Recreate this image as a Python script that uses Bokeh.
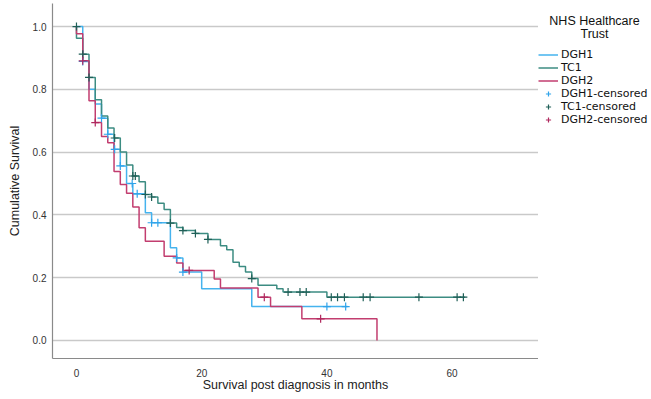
from bokeh.plotting import figure
from bokeh.layouts import row
from bokeh.models import Range1d, FixedTicker, PrintfTickFormatter, Legend, LegendItem, Label
from bokeh.embed import file_html
from bokeh.resources import INLINE

# ---------------- data ----------------
# DGH1
dgh1_t = [1, 2, 3, 4, 5, 6, 7, 8, 9, 11, 12, 15, 16, 17, 20, 28]
dgh1_s = [0.889, 0.800, 0.753, 0.708, 0.657, 0.609, 0.556, 0.500, 0.467, 0.407, 0.375,
          0.295, 0.263, 0.218, 0.165, 0.108]
dgh1_end = 43.3
dgh1_ct = [1, 4, 5, 6.1, 7, 8.9, 9.7, 12, 13, 16, 17, 40, 43]
dgh1_cs = [0.889, 0.708, 0.657, 0.609, 0.556, 0.500, 0.467, 0.375, 0.375, 0.263, 0.218, 0.108, 0.108]

# TC1
tc1_t = [0, 1, 2, 3, 4, 5, 6, 7, 8, 9, 10, 11, 12, 13, 14, 15, 16, 17, 19, 21, 23, 24, 25,
         26, 27, 28, 29, 32, 33, 40]
tc1_s = [0.963, 0.912, 0.838, 0.767, 0.715, 0.677, 0.645, 0.600, 0.559, 0.524, 0.506, 0.465,
         0.457, 0.437, 0.417, 0.374, 0.360, 0.350, 0.341, 0.322, 0.302, 0.289, 0.249, 0.236,
         0.218, 0.197, 0.176, 0.165, 0.154, 0.138]
tc1_end = 62.1
tc1_ct = [0, 1, 2, 6.1, 9, 9.4, 11, 12, 15, 17, 19, 21, 28, 33.8, 35.7, 36.7, 40.7, 41.7,
          42.8, 45.8, 46.9, 54.7, 60.8, 61.8]
tc1_cs = [1.0, 0.912, 0.838, 0.645, 0.524, 0.524, 0.465, 0.457, 0.374, 0.350, 0.341, 0.322,
          0.197, 0.154, 0.154, 0.154, 0.138, 0.138, 0.138, 0.138, 0.138, 0.138, 0.138, 0.138]

# DGH2
dgh2_t = [0, 1, 2, 3, 4, 5, 6, 7, 8, 9, 10, 11, 14, 16, 17, 22, 23, 29, 31, 36, 48]
dgh2_s = [0.977, 0.891, 0.764, 0.694, 0.650, 0.630, 0.538, 0.497, 0.469, 0.425, 0.359, 0.316,
          0.268, 0.247, 0.223, 0.196, 0.167, 0.138, 0.108, 0.069, 0.0]
dgh2_end = 48
dgh2_ct = [1, 3, 18, 30, 39]
dgh2_cs = [0.891, 0.694, 0.223, 0.138, 0.069]

series_names = ["DGH1", "TC1", "DGH2"]
x_ticks = [0, 20, 40, 60]
y_ticks = [0.0, 0.2, 0.4, 0.6, 0.8, 1.0]
legend_title = ["NHS Healthcare", "Trust"]

line_colors = {"DGH1": "#45b3ee", "TC1": "#3c8c82", "DGH2": "#c23d6f"}
cens_colors = {"DGH1": "#2fa3ea", "TC1": "#1f5f57", "DGH2": "#b0285e"}

FONT = "Liberation Sans"
NAN = float("nan")

# ---------------- main plot ----------------
p = figure(width=538, height=399, output_backend="svg", toolbar_location=None,
           x_range=Range1d(-3.83, 73.8), y_range=Range1d(-0.0575, 1.0735),
           min_border_left=52, min_border_right=0, min_border_top=3, min_border_bottom=41)
p.outline_line_color = None
p.background_fill_color = "white"

def steps(t, s, end):
    xs = [0] + list(t) + [end]
    ys = [1.0] + list(s) + [s[-1]]
    return xs, ys

data = {
    "DGH1": (dgh1_t, dgh1_s, dgh1_end, dgh1_ct, dgh1_cs),
    "TC1": (tc1_t, tc1_s, tc1_end, tc1_ct, tc1_cs),
    "DGH2": (dgh2_t, dgh2_s, dgh2_end, dgh2_ct, dgh2_cs),
}

for name in series_names:
    t, s, end, ct, cs = data[name]
    xs, ys = steps(t, s, end)
    p.step(xs, ys, mode="after", line_color=line_colors[name], line_width=1.5)
for name in series_names:
    t, s, end, ct, cs = data[name]
    p.scatter(ct, cs, marker="cross", size=8, line_color=cens_colors[name], line_width=1.2)

for ax in (p.xaxis[0], p.yaxis[0]):
    ax.axis_line_color = "#8a8a8a"
    ax.axis_line_width = 1.2
    ax.major_tick_line_color = None
    ax.minor_tick_line_color = None
    ax.major_label_text_font = FONT
    ax.major_label_text_font_size = "10px"
    ax.major_label_text_color = "#333333"
    ax.axis_label_text_font = FONT
    ax.axis_label_text_font_size = "12.5px"
    ax.axis_label_text_font_style = "normal"
    ax.axis_label_text_color = "#222222"

p.xaxis.ticker = FixedTicker(ticks=x_ticks)
p.yaxis.ticker = FixedTicker(ticks=y_ticks)
p.yaxis.formatter = PrintfTickFormatter(format="%.1f")
p.xaxis.axis_label = "Survival post diagnosis in months"
p.yaxis.axis_label = "Cumulative Survival"
p.xaxis.major_label_standoff = 4
p.xaxis.axis_label_standoff = -2
p.yaxis.major_label_standoff = 0
p.yaxis.axis_label_standoff = 8

p.xgrid.grid_line_color = None
p.ygrid.ticker = FixedTicker(ticks=y_ticks)
p.ygrid.grid_line_color = "#c9c9c9"
p.ygrid.grid_line_width = 1.5

# ---------------- legend panel ----------------
lg = figure(width=113, height=399, output_backend="svg", toolbar_location=None,
            x_range=Range1d(0, 1), y_range=Range1d(0, 1),
            x_axis_type=None, y_axis_type=None,
            min_border_left=0, min_border_right=0, min_border_top=3, min_border_bottom=41)
lg.outline_line_color = None
lg.xgrid.grid_line_color = None
lg.ygrid.grid_line_color = None

line_items = []
cens_items = []
for name in series_names:
    r = lg.step([NAN], [NAN], mode="after", line_color=line_colors[name], line_width=1.5)
    line_items.append(LegendItem(label=name, renderers=[r]))
for name in series_names:
    r = lg.scatter([NAN], [NAN], marker="cross", size=8, line_color=cens_colors[name],
                   line_width=1.2)
    cens_items.append(LegendItem(label=name + "-censored", renderers=[r]))

legend = Legend(items=line_items + cens_items, location=(0, 232),
                border_line_color=None, background_fill_alpha=0,
                padding=0, spacing=0, margin=0,
                label_height=13, glyph_height=13, glyph_width=20, label_standoff=3,
                label_text_font="DejaVu Sans", label_text_font_size="11px",
                label_text_color="#111111")
lg.add_layout(legend)

lg.add_layout(Label(x=56, y=338, x_units="screen", y_units="screen", text=legend_title[0],
                    text_align="center", text_baseline="middle", text_font=FONT,
                    text_font_size="12.5px", text_color="#111111"))
lg.add_layout(Label(x=56, y=325, x_units="screen", y_units="screen", text=legend_title[1],
                    text_align="center", text_baseline="middle", text_font=FONT,
                    text_font_size="12.5px", text_color="#111111"))

layout = row(p, lg)
open("out.html", "w").write(file_html(layout, INLINE))
